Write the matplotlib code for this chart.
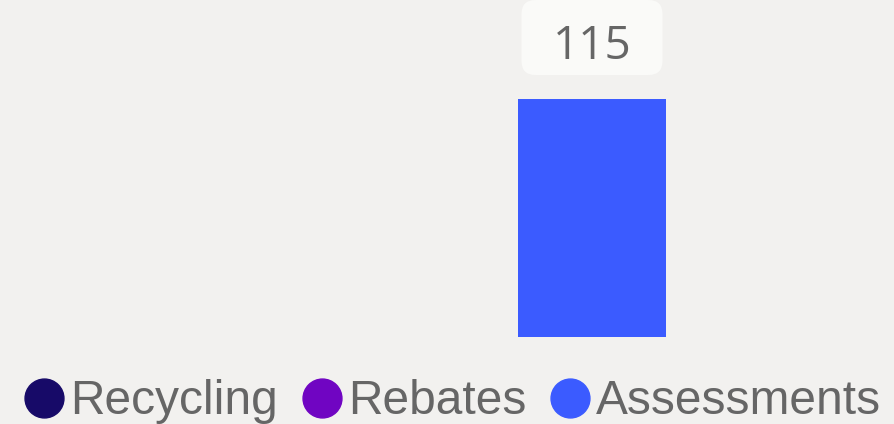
import matplotlib.pyplot as plt
from matplotlib.lines import Line2D
from matplotlib.patches import FancyBboxPatch
from matplotlib.transforms import ScaledTranslation

# Data
categories = ['']
series = ['Recycling', 'Rebates', 'Assessments']
values = [0, 0, 115]
colors = ['#170a68', '#7005c2', '#3b5bff']

bg = '#f2f1ef'
text_color = '#666666'

fig = plt.figure(figsize=(8.95, 4.24), dpi=100, facecolor=bg)
ax = fig.add_axes([0, 87 / 424, 1, 337 / 424])
ax.set_facecolor(bg)

w = 0.25
for i, (name, v, c) in enumerate(zip(series, values, colors)):
    x = (i - 1) * w
    if v > 0:
        ax.bar(x, v, width=w, color=c)
        # rounded label box above the bar (sizes in inches)
        anchor = ScaledTranslation(x, v, ax.transData)
        box = FancyBboxPatch((-0.705, 0.24), 1.41, 0.75,
                             boxstyle='round,pad=0,rounding_size=0.14',
                             fc='#fafaf8', ec='none',
                             transform=fig.dpi_scale_trans + anchor,
                             clip_on=False)
        ax.add_patch(box)
        ax.annotate(str(v), xy=(x, v), xytext=(0, 28.8), textcoords='offset points',
                    ha='center', va='baseline', fontsize=33, color=text_color,
                    family='Open Sans')

# pixel mapping: bar width 148 px, group centre at 444 px
ppu = 148 / w
ax.set_xlim(-444 / ppu, (895 - 444) / ppu)
ax.set_ylim(0, 115 * 337 / 238)
ax.axis('off')

handles = [Line2D([], [], marker='o', linestyle='none', markersize=28,
                  markerfacecolor=c, markeredgecolor=c) for c in colors]
fig.legend(handles, series, loc='center', bbox_to_anchor=(452.5 / 895, 22 / 424),
           ncol=3, frameon=False, labelcolor=text_color,
           handletextpad=0.12, columnspacing=0.5, handlelength=0.84,
           borderpad=0, borderaxespad=0,
           prop={'family': 'Liberation Sans', 'size': 34.5})

fig.savefig('out.png', dpi=100, facecolor=bg)
